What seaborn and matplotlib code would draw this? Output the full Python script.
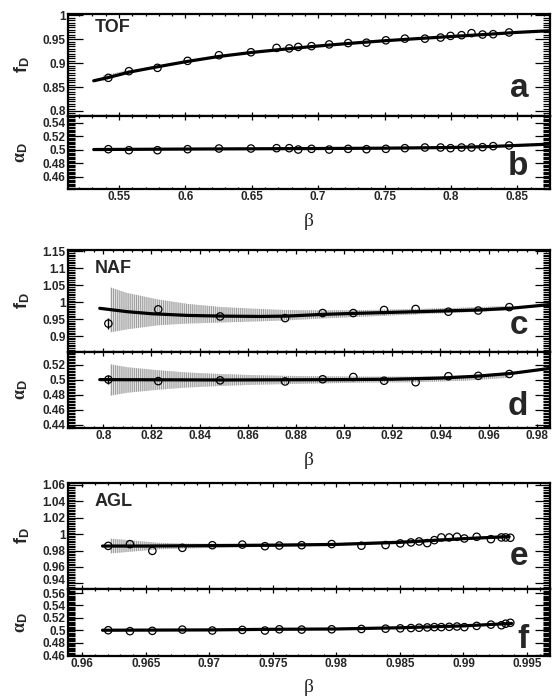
import matplotlib
matplotlib.use('Agg')
import matplotlib.pyplot as plt
import matplotlib.transforms as mtrans
import seaborn as sns
from matplotlib.ticker import MultipleLocator, FuncFormatter

# ---------------- data ----------------
# TOF
tof_beta = [0.542, 0.5575, 0.579, 0.6017, 0.6253, 0.6494, 0.6687, 0.6782, 0.685, 0.695, 0.7083, 0.7226,
            0.7364, 0.751, 0.7653, 0.7804, 0.7922, 0.7997, 0.808, 0.8155, 0.8238, 0.8318, 0.8438]
tof_fD = [0.8694, 0.8833, 0.8903, 0.9049, 0.9167, 0.9229, 0.932, 0.931, 0.934, 0.9357, 0.9393, 0.9421,
          0.9429, 0.9479, 0.9514, 0.9514, 0.9536, 0.9571, 0.9586, 0.9629, 0.960, 0.9607, 0.9643]
tof_aD = [0.501, 0.4995, 0.4995, 0.501, 0.502, 0.502, 0.5025, 0.5025, 0.5005, 0.5015, 0.5005, 0.5015,
          0.501, 0.5015, 0.5025, 0.5035, 0.5035, 0.5025, 0.5035, 0.5035, 0.504, 0.5055, 0.5065]
tof_fit_x = [0.531, 0.542, 0.558, 0.58, 0.60, 0.625, 0.65, 0.675, 0.70, 0.725, 0.75, 0.775, 0.80, 0.825, 0.85, 0.8746]
tof_fit_fD = [0.8632, 0.8700, 0.8815, 0.8930, 0.9030, 0.9140, 0.9225, 0.9295, 0.9360, 0.9418, 0.9470, 0.9515,
              0.9558, 0.9600, 0.9645, 0.9680]
tof_fit_ax = [0.531, 0.6, 0.7, 0.75, 0.8, 0.83, 0.8746]
tof_fit_aD = [0.5005, 0.5012, 0.502, 0.5025, 0.5035, 0.5050, 0.5085]
tof_band_x = [0.538, 0.548, 0.558]
tof_band_lo = [0.863, 0.872, 0.879]
tof_band_hi = [0.874, 0.880, 0.886]

# NAF
naf_beta = [0.8021, 0.8228, 0.8485, 0.8755, 0.8911, 0.9038, 0.9166, 0.9297, 0.9433, 0.9557, 0.9686]
naf_fD = [0.937, 0.979, 0.958, 0.953, 0.968, 0.968, 0.977, 0.980, 0.972, 0.9755, 0.9855]
naf_fD_err = [0.017, 0, 0, 0, 0, 0, 0, 0, 0, 0, 0]
naf_aD = [0.5005, 0.4985, 0.4995, 0.498, 0.501, 0.504, 0.499, 0.497, 0.505, 0.5055, 0.508]
naf_aD_err = [0.006, 0, 0, 0, 0, 0, 0, 0, 0, 0, 0]
naf_fit_x = [0.7985, 0.81, 0.82, 0.835, 0.85, 0.865, 0.876, 0.891, 0.904, 0.93, 0.956, 0.969, 0.9855]
naf_fit_fD = [0.982, 0.972, 0.966, 0.961, 0.959, 0.958, 0.959, 0.964, 0.967, 0.972, 0.977, 0.982, 0.993]
naf_fit_ax = [0.7985, 0.85, 0.9, 0.92, 0.94, 0.955, 0.97, 0.9855]
naf_fit_aD = [0.5005, 0.5, 0.5005, 0.501, 0.5025, 0.505, 0.509, 0.5155]
naf_band_x = [0.8028, 0.81, 0.8228, 0.835, 0.8485, 0.862, 0.8755, 0.891, 0.91, 0.93, 0.95, 0.9686]
naf_band_fD_hi = [1.044, 1.027, 1.008, 0.995, 0.986, 0.981, 0.977, 0.976, 0.977, 0.980, 0.984, 0.989]
naf_band_fD_lo = [0.911, 0.920, 0.932, 0.937, 0.940, 0.943, 0.946, 0.952, 0.958, 0.964, 0.970, 0.976]
naf_band_aD_hi = [0.521, 0.517, 0.513, 0.510, 0.508, 0.5065, 0.5055, 0.505, 0.5045, 0.5045, 0.506, 0.510]
naf_band_aD_lo = [0.479, 0.483, 0.487, 0.490, 0.492, 0.4935, 0.4945, 0.4955, 0.4965, 0.497, 0.499, 0.503]

# AGL
agl_beta = [0.96205, 0.96376, 0.96552, 0.96788, 0.97024, 0.9726, 0.97438, 0.97551, 0.97727, 0.97963,
            0.98197, 0.98387, 0.98503, 0.98587, 0.98651, 0.98715, 0.98771, 0.98826, 0.98888, 0.98949,
            0.99007, 0.99104, 0.99216, 0.99299, 0.99332, 0.99369]
agl_fD = [0.9857, 0.9878, 0.9796, 0.9833, 0.9865, 0.9873, 0.9853, 0.9861, 0.9865, 0.9879, 0.9859, 0.9867,
          0.9887, 0.9899, 0.9911, 0.9891, 0.9927, 0.996, 0.996, 0.9968, 0.9947, 0.9968, 0.9939, 0.996,
          0.996, 0.9956]
agl_aD = [0.500, 0.4985, 0.499, 0.501, 0.4995, 0.5005, 0.4995, 0.5015, 0.501, 0.5015, 0.502, 0.5025,
          0.503, 0.5035, 0.504, 0.5045, 0.505, 0.505, 0.5055, 0.506, 0.505, 0.507, 0.509, 0.508, 0.5105, 0.512]
agl_fit_x = [0.9616, 0.965, 0.97, 0.975, 0.98, 0.985, 0.99, 0.9936]
agl_fit_fD = [0.9855, 0.9855, 0.986, 0.9865, 0.9875, 0.990, 0.9945, 0.9970]
agl_fit_ax = [0.9616, 0.97, 0.975, 0.98, 0.985, 0.99, 0.9938]
agl_fit_aD = [0.500, 0.5005, 0.5015, 0.502, 0.504, 0.507, 0.511]
agl_band_x = [0.9622, 0.963, 0.9645, 0.966, 0.968, 0.972, 0.98, 0.99, 0.9935]
agl_band_fD_hi = [0.9945, 0.9935, 0.9915, 0.9895, 0.9885, 0.9882, 0.989, 0.996, 0.999]
agl_band_fD_lo = [0.9765, 0.9775, 0.9795, 0.9815, 0.9825, 0.9838, 0.986, 0.993, 0.995]

# ---------------- style ----------------
sns.set_style('ticks')
plt.rcParams['font.family'] = ['Liberation Sans', 'DejaVu Sans']
plt.rcParams['font.weight'] = 'bold'
plt.rcParams['mathtext.fontset'] = 'custom'
plt.rcParams['mathtext.rm'] = 'Liberation Serif'
plt.rcParams['mathtext.it'] = 'Liberation Serif'
plt.rcParams['mathtext.bf'] = 'Liberation Sans:bold'
plt.rcParams['hatch.linewidth'] = 0.7
plt.rcParams['hatch.color'] = '#9a9a9a'

W, H = 554, 698
L, R = 67.7, 550.0
fig = plt.figure(figsize=(W / 100, H / 100), dpi=100)


def add_ax(top, bottom):
    return fig.add_axes([L / W, 1 - bottom / H, (R - L) / W, (bottom - top) / H])


fmt = FuncFormatter(lambda v, p: '%g' % round(v, 5))


def style(ax, xlim, ylim, xmaj, xmin, ymaj, ymin, show_x):
    ax.set_xlim(*xlim)
    ax.set_ylim(*ylim)
    ax.xaxis.set_major_locator(MultipleLocator(xmaj))
    ax.xaxis.set_minor_locator(MultipleLocator(xmin))
    ax.yaxis.set_major_locator(MultipleLocator(ymaj))
    ax.yaxis.set_minor_locator(MultipleLocator(ymin))
    ax.xaxis.set_major_formatter(fmt)
    ax.yaxis.set_major_formatter(fmt)
    ax.tick_params(axis='both', which='both', direction='in', top=True, right=True,
                   labelsize=8.5, pad=1.5, color='black', width=0.9)
    ax.tick_params(axis='y', which='major', length=10.5)
    ax.tick_params(axis='y', which='minor', length=5.2)
    ax.tick_params(axis='x', which='major', length=3.2)
    ax.tick_params(axis='x', which='minor', length=1.6)
    ax.tick_params(axis='x', labelbottom=show_x)
    for lab in ax.get_xticklabels() + ax.get_yticklabels():
        lab.set_fontweight('bold')
    for s in ax.spines.values():
        s.set_linewidth(1.6)
        s.set_color('black')
    ax.set_xlabel('')
    ax.set_ylabel('')


def draw(ax, bx, lo, hi, fx, fy, px, py, perr=None):
    if bx is not None:
        ax.fill_between(bx, lo, hi, facecolor='#e4e4e4', edgecolor='#9a9a9a', hatch='||||||||',
                        linewidth=0, zorder=1)
    sns.lineplot(x=fx, y=fy, ax=ax, color='black', linewidth=2.3, estimator=None, sort=False, zorder=3)
    if perr is not None:
        ax.errorbar(px, py, yerr=perr, fmt='none', ecolor='black', elinewidth=1.0, capsize=0, zorder=4)
    sns.scatterplot(x=px, y=py, ax=ax, marker='o', s=28, facecolor='none', edgecolor='black',
                    linewidth=0.9, zorder=5)


def ylab(top, bottom, text):
    fig.text(22 / W, 1 - (top + bottom) / 2 / H, text, rotation=90, ha='center', va='center', fontsize=13)


def xlab(bottom):
    fig.text((L + R) / 2 / W, 1 - (bottom + 32) / H, 'β', family='Liberation Serif', fontweight='normal',
             ha='center', va='center', fontsize=14)


def tag(ax, text, ypix_from_bottom, height):
    ax.text(0.955, ypix_from_bottom / height, text, transform=ax.transAxes, ha='right', va='baseline',
            fontsize=24, fontweight='bold')


def group(ax, text, ypix_from_top, height):
    ax.text((95 - L) / (R - L), 1 - ypix_from_top / height, text, transform=ax.transAxes, ha='left',
            va='baseline', fontsize=13, fontweight='bold')


def nudge(ax, text, dy_px):
    off = mtrans.ScaledTranslation(0, dy_px / 100.0, fig.dpi_scale_trans)
    for lab in ax.get_yticklabels():
        if lab.get_text() == text:
            lab.set_transform(lab.get_transform() + off)


fD_lab = r'$\mathbf{f}_{\mathbf{D}}$'
aD_lab = r'$\alpha_{\mathbf{D}}$'

# ---- TOF ----
a_t, a_b, b_b = 13.5, 116.0, 189.3
ax_a = add_ax(a_t, a_b)
draw(ax_a, tof_band_x, tof_band_lo, tof_band_hi, tof_fit_x, tof_fit_fD, tof_beta, tof_fD)
style(ax_a, (0.5114, 0.8746), (0.7895, 1.004), 0.05, 0.01, 0.05, 0.005, False)
ax_b = add_ax(a_b, b_b)
draw(ax_b, None, None, None, tof_fit_ax, tof_fit_aD, tof_beta, tof_aD)
style(ax_b, (0.5114, 0.8746), (0.4418, 0.55), 0.05, 0.01, 0.02, 0.002, True)
tag(ax_a, 'a', 19, a_b - a_t)
tag(ax_b, 'b', 14, b_b - a_b)
group(ax_a, 'TOF', 18.5, a_b - a_t)
ylab(a_t, a_b, fD_lab)
ylab(a_b, b_b, aD_lab)
xlab(b_b)

# ---- NAF ----
c_t, c_b, d_b = 250.0, 351.7, 428.3
ax_c = add_ax(c_t, c_b)
draw(ax_c, naf_band_x, naf_band_fD_lo, naf_band_fD_hi, naf_fit_x, naf_fit_fD, naf_beta, naf_fD, naf_fD_err)
style(ax_c, (0.7852, 0.9855), (0.854, 1.154), 0.02, 0.004, 0.05, 0.005, False)
ax_d = add_ax(c_b, d_b)
draw(ax_d, naf_band_x, naf_band_aD_lo, naf_band_aD_hi, naf_fit_ax, naf_fit_aD, naf_beta, naf_aD, naf_aD_err)
style(ax_d, (0.7852, 0.9855), (0.4356, 0.5377), 0.02, 0.004, 0.02, 0.002, True)
tag(ax_c, 'c', 18, c_b - c_t)
tag(ax_d, 'd', 13, d_b - c_b)
group(ax_c, 'NAF', 23, c_b - c_t)
ylab(c_t, c_b, fD_lab)
ylab(c_b, d_b, aD_lab)
xlab(d_b)

# ---- AGL ----
e_t, e_b, f_b = 483.0, 589.0, 655.7
ax_e = add_ax(e_t, e_b)
draw(ax_e, agl_band_x, agl_band_fD_lo, agl_band_fD_hi, agl_fit_x, agl_fit_fD, agl_beta, agl_fD)
style(ax_e, (0.95886, 0.99681), (0.9331, 1.0624), 0.005, 0.001, 0.02, 0.002, False)
ax_f = add_ax(e_b, f_b)
draw(ax_f, None, None, None, agl_fit_ax, agl_fit_aD, agl_beta, agl_aD)
style(ax_f, (0.95886, 0.99681), (0.4589, 0.5665), 0.005, 0.001, 0.02, 0.002, True)
tag(ax_e, 'e', 24, e_b - e_t)
tag(ax_f, 'f', 8, f_b - e_b)
group(ax_e, 'AGL', 23, e_b - e_t)
ylab(e_t, e_b, fD_lab)
ylab(e_b, f_b, aD_lab)
xlab(f_b)

fig.canvas.draw()
nudge(ax_e, '0.94', 3.5)
nudge(ax_f, '0.56', -0.5)

fig.savefig('out.png', dpi=100)
